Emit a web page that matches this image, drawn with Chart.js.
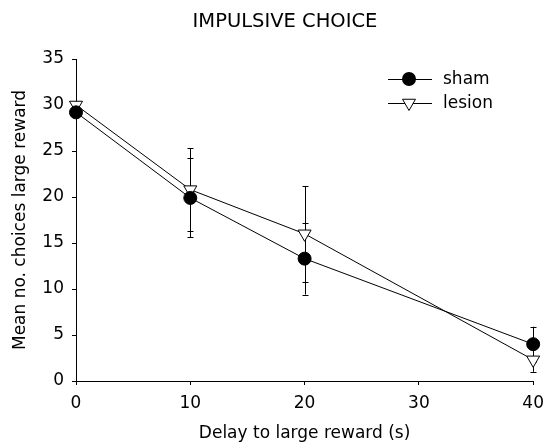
<!DOCTYPE html>
<html>
<head>
<meta charset="utf-8">
<script src="https://cdn.jsdelivr.net/npm/chart.js@4"></script>
<style>
  html, body { margin: 0; padding: 0; background: #fff; }
  #wrap { width: 552px; height: 444px; }
</style>
</head>
<body>
<div id="wrap"><canvas id="c" width="552" height="444"></canvas></div>
<script>
const chartTitle = 'IMPULSIVE CHOICE';
const xTitle = 'Delay to large reward (s)';
const yTitle = 'Mean no. choices large reward';
const delays = [0, 10, 20, 40];
const shamMeans = [29.2, 19.9, 13.3, 4.0];
const shamErr = [0.5, 4.3, 3.9, 1.9];
const lesionMeans = [30.0, 20.8, 16.0, 2.3];
const lesionErr = [0.3, 4.5, 5.2, 1.3];
const seriesNames = ['sham', 'lesion'];
const xTicks = [0, 10, 20, 30, 40];
const yTicks = [0, 5, 10, 15, 20, 25, 30, 35];

const FONT = "'DejaVu Sans', 'Liberation Sans', Arial, sans-serif";

const toPts = (means) => delays.map((d, i) => ({x: d, y: means[i]}));

const errorBars = {
  id: 'errorBars',
  beforeDatasetsDraw(chart) {
    const {ctx, scales: {x, y}} = chart;
    const errs = [shamErr, lesionErr];
    const means = [shamMeans, lesionMeans];
    ctx.save();
    ctx.strokeStyle = '#000';
    ctx.lineWidth = 1;
    errs.forEach((err, s) => {
      delays.forEach((d, i) => {
        const px = Math.round(x.getPixelForValue(d)) + 0.5;
        const top = y.getPixelForValue(means[s][i] + err[i]);
        const bot = y.getPixelForValue(means[s][i] - err[i]);
        ctx.beginPath();
        ctx.moveTo(px, top); ctx.lineTo(px, bot);
        ctx.moveTo(px - 3, Math.round(top) + 0.5); ctx.lineTo(px + 3, Math.round(top) + 0.5);
        ctx.moveTo(px - 3, Math.round(bot) + 0.5); ctx.lineTo(px + 3, Math.round(bot) + 0.5);
        ctx.stroke();
      });
    });
    ctx.restore();
  }
};

const decor = {
  id: 'decor',
  afterDraw(chart) {
    const {ctx} = chart;
    ctx.save();
    ctx.fillStyle = '#000';
    ctx.font = '19.5px ' + FONT;
    ctx.textAlign = 'center';
    ctx.textBaseline = 'middle';
    ctx.fillText(chartTitle, 285, 22);

    // legend
    ctx.strokeStyle = '#000';
    ctx.lineWidth = 1;
    ctx.font = '17px ' + FONT;
    ctx.textAlign = 'left';
    const rows = [79, 103];
    rows.forEach((ry, k) => {
      ctx.beginPath();
      ctx.moveTo(388, ry + 0.5); ctx.lineTo(432, ry + 0.5);
      ctx.stroke();
      if (k === 0) {
        ctx.beginPath();
        ctx.arc(409, ry, 7, 0, Math.PI * 2);
        ctx.fillStyle = '#000';
        ctx.fill();
      } else {
        const r = 7.5;
        ctx.beginPath();
        ctx.moveTo(409 - r * Math.sqrt(3) / 2, ry - r / 2);
        ctx.lineTo(409 + r * Math.sqrt(3) / 2, ry - r / 2);
        ctx.lineTo(409, ry + r);
        ctx.closePath();
        ctx.fillStyle = '#fff';
        ctx.fill();
        ctx.stroke();
      }
      ctx.fillStyle = '#000';
      ctx.fillText(seriesNames[k], 443, ry + 1);
    });
    ctx.restore();
  }
};

new Chart(document.getElementById('c'), {
  type: 'line',
  data: {
    datasets: [
      {
        label: seriesNames[0],
        data: toPts(shamMeans),
        borderColor: '#000',
        borderWidth: 1,
        backgroundColor: '#000',
        pointBackgroundColor: '#000',
        pointBorderColor: '#000',
        pointStyle: 'circle',
        pointRadius: 6.5,
        pointBorderWidth: 1,
        tension: 0,
        clip: false
      },
      {
        label: seriesNames[1],
        data: toPts(lesionMeans),
        borderColor: '#000',
        borderWidth: 1,
        backgroundColor: '#fff',
        pointBackgroundColor: '#fff',
        pointBorderColor: '#000',
        pointStyle: 'triangle',
        pointRotation: 180,
        pointRadius: 7.5,
        pointBorderWidth: 1,
        tension: 0,
        clip: false
      }
    ]
  },
  options: {
    responsive: false,
    animation: false,
    events: [],
    layout: { padding: { top: 59, right: 13, left: 0, bottom: 0 } },
    plugins: { legend: { display: false }, title: { display: false }, tooltip: { enabled: false } },
    scales: {
      x: {
        type: 'linear',
        min: 0, max: 40,
        afterFit(s) { s.height = 63; },
        afterBuildTicks(s) { s.ticks = xTicks.map(v => ({value: v})); },
        grid: { display: true, drawOnChartArea: false, drawTicks: true, tickLength: 4, color: '#000', lineWidth: 1 },
        border: { display: true, color: '#000', width: 1 },
        ticks: { color: '#000', font: { family: FONT, size: 17 }, padding: 8, maxRotation: 0 },
        title: { display: true, text: xTitle, color: '#000', font: { family: FONT, size: 17 }, padding: { top: 0, bottom: 0 } }
      },
      y: {
        type: 'linear',
        min: 0, max: 35,
        afterFit(s) { s.width = 76; },
        afterBuildTicks(s) { s.ticks = yTicks.map(v => ({value: v})); },
        grid: { display: true, drawOnChartArea: false, drawTicks: true, tickLength: 4, color: '#000', lineWidth: 1 },
        border: { display: true, color: '#000', width: 1 },
        ticks: { color: '#000', font: { family: FONT, size: 17 }, padding: 8 },
        title: { display: true, text: yTitle, color: '#000', font: { family: FONT, size: 17 }, padding: { top: 10, bottom: 0 } }
      }
    }
  },
  plugins: [errorBars, decor]
});
</script>
</body>
</html>
